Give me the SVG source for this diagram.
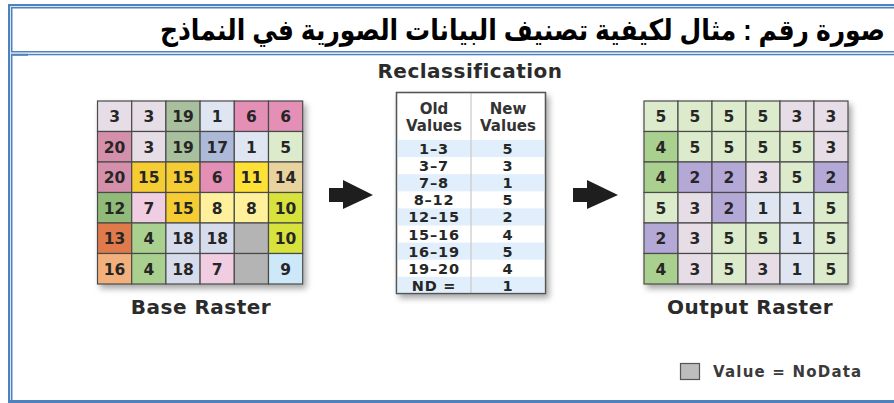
<svg xmlns="http://www.w3.org/2000/svg" width="894" height="403" viewBox="0 0 894 403">
<defs>
<style>
.b{fill:#4f81bd}
.num{font-family:"DejaVu Sans","Open Sans",sans-serif;font-weight:700;font-size:15.5px;fill:#262626;text-anchor:middle}
.cell{stroke:#4a4a4a;stroke-width:1.2}
.lbl{font-family:"DejaVu Sans","Open Sans",sans-serif;font-weight:700;font-size:20px;fill:#2b2b2b;text-anchor:middle;letter-spacing:0.5px}
.th{font-family:"DejaVu Sans","Open Sans",sans-serif;font-weight:700;font-size:15px;fill:#333;text-anchor:middle}
.td{font-family:"DejaVu Sans","Open Sans",sans-serif;font-weight:700;font-size:14.5px;fill:#262626;text-anchor:middle;letter-spacing:0.8px}
.arr{fill:#1e1e1e}
</style>
<filter id="sh" x="-10%" y="-10%" width="130%" height="130%">
<feGaussianBlur in="SourceAlpha" stdDeviation="3"/>
<feOffset dx="3" dy="4"/>
<feComponentTransfer><feFuncA type="linear" slope="0.35"/></feComponentTransfer>
<feMerge><feMergeNode/><feMergeNode in="SourceGraphic"/></feMerge>
</filter>
</defs>
<rect width="894" height="403" fill="#fff"/>
<g id="frame">
<rect class="b" x="8" y="4" width="886" height="2.2"/>
<rect class="b" x="11" y="7" width="883" height="1.5"/>
<rect class="b" x="8" y="4" width="2.2" height="399"/>
<rect class="b" x="11" y="7" width="1.5" height="45"/>
<rect class="b" x="11" y="51" width="883" height="1.5"/>
<rect class="b" x="11" y="53.8" width="883" height="1.5"/>
<rect class="b" x="11" y="53.8" width="17" height="2"/>
<rect class="b" x="11" y="54" width="1.5" height="346"/>
<rect class="b" x="8" y="400" width="886" height="3"/>
</g>
<g id="title">
<text x="160" y="34.5" transform="matrix(1 0 0 1.16 0 0)" textLength="725" lengthAdjust="spacingAndGlyphs" font-family="Liberation Sans, DejaVu Sans, sans-serif" font-weight="700" font-size="25" fill="#000">صورة رقم : مثال لكيفية تصنيف البيانات الصورية في النماذج</text>
</g>
<g id="base-raster">
<g filter="url(#sh)">
<rect x="97.5" y="101" width="205.2" height="183" fill="#fff"/>
<rect class="cell" x="97.5" y="101" width="34.2" height="30.5" fill="#e6dde6"/>
<rect class="cell" x="131.7" y="101" width="34.2" height="30.5" fill="#e6dde6"/>
<rect class="cell" x="165.9" y="101" width="34.2" height="30.5" fill="#a9c09f"/>
<rect class="cell" x="200.1" y="101" width="34.2" height="30.5" fill="#dfe6f1"/>
<rect class="cell" x="234.3" y="101" width="34.2" height="30.5" fill="#e48fb6"/>
<rect class="cell" x="268.5" y="101" width="34.2" height="30.5" fill="#e48fb6"/>
<rect class="cell" x="97.5" y="131.5" width="34.2" height="30.5" fill="#d490ab"/>
<rect class="cell" x="131.7" y="131.5" width="34.2" height="30.5" fill="#e6dde6"/>
<rect class="cell" x="165.9" y="131.5" width="34.2" height="30.5" fill="#a9c09f"/>
<rect class="cell" x="200.1" y="131.5" width="34.2" height="30.5" fill="#acb9d9"/>
<rect class="cell" x="234.3" y="131.5" width="34.2" height="30.5" fill="#dfe6f1"/>
<rect class="cell" x="268.5" y="131.5" width="34.2" height="30.5" fill="#dcebcc"/>
<rect class="cell" x="97.5" y="162" width="34.2" height="30.5" fill="#d490ab"/>
<rect class="cell" x="131.7" y="162" width="34.2" height="30.5" fill="#f5cd32"/>
<rect class="cell" x="165.9" y="162" width="34.2" height="30.5" fill="#f5cd32"/>
<rect class="cell" x="200.1" y="162" width="34.2" height="30.5" fill="#e48fb6"/>
<rect class="cell" x="234.3" y="162" width="34.2" height="30.5" fill="#ffe136"/>
<rect class="cell" x="268.5" y="162" width="34.2" height="30.5" fill="#e8d29e"/>
<rect class="cell" x="97.5" y="192.5" width="34.2" height="30.5" fill="#8fba78"/>
<rect class="cell" x="131.7" y="192.5" width="34.2" height="30.5" fill="#f1cde1"/>
<rect class="cell" x="165.9" y="192.5" width="34.2" height="30.5" fill="#f5cd32"/>
<rect class="cell" x="200.1" y="192.5" width="34.2" height="30.5" fill="#fff09c"/>
<rect class="cell" x="234.3" y="192.5" width="34.2" height="30.5" fill="#fff09c"/>
<rect class="cell" x="268.5" y="192.5" width="34.2" height="30.5" fill="#d8e23e"/>
<rect class="cell" x="97.5" y="223" width="34.2" height="30.5" fill="#e07a4b"/>
<rect class="cell" x="131.7" y="223" width="34.2" height="30.5" fill="#a9d08f"/>
<rect class="cell" x="165.9" y="223" width="34.2" height="30.5" fill="#d6dcec"/>
<rect class="cell" x="200.1" y="223" width="34.2" height="30.5" fill="#d6dcec"/>
<rect class="cell" x="234.3" y="223" width="34.2" height="30.5" fill="#b4b4b4"/>
<rect class="cell" x="268.5" y="223" width="34.2" height="30.5" fill="#d8e23e"/>
<rect class="cell" x="97.5" y="253.5" width="34.2" height="30.5" fill="#f2b17c"/>
<rect class="cell" x="131.7" y="253.5" width="34.2" height="30.5" fill="#a9d08f"/>
<rect class="cell" x="165.9" y="253.5" width="34.2" height="30.5" fill="#d6dcec"/>
<rect class="cell" x="200.1" y="253.5" width="34.2" height="30.5" fill="#f1cde1"/>
<rect class="cell" x="234.3" y="253.5" width="34.2" height="30.5" fill="#b4b4b4"/>
<rect class="cell" x="268.5" y="253.5" width="34.2" height="30.5" fill="#cde8f8"/>
</g>
<text class="num" x="114.6" y="122">3</text>
<text class="num" x="148.8" y="122">3</text>
<text class="num" x="183" y="122">19</text>
<text class="num" x="217.2" y="122">1</text>
<text class="num" x="251.4" y="122">6</text>
<text class="num" x="285.6" y="122">6</text>
<text class="num" x="114.6" y="152.5">20</text>
<text class="num" x="148.8" y="152.5">3</text>
<text class="num" x="183" y="152.5">19</text>
<text class="num" x="217.2" y="152.5">17</text>
<text class="num" x="251.4" y="152.5">1</text>
<text class="num" x="285.6" y="152.5">5</text>
<text class="num" x="114.6" y="183">20</text>
<text class="num" x="148.8" y="183">15</text>
<text class="num" x="183" y="183">15</text>
<text class="num" x="217.2" y="183">6</text>
<text class="num" x="251.4" y="183">11</text>
<text class="num" x="285.6" y="183">14</text>
<text class="num" x="114.6" y="213.5">12</text>
<text class="num" x="148.8" y="213.5">7</text>
<text class="num" x="183" y="213.5">15</text>
<text class="num" x="217.2" y="213.5">8</text>
<text class="num" x="251.4" y="213.5">8</text>
<text class="num" x="285.6" y="213.5">10</text>
<text class="num" x="114.6" y="244">13</text>
<text class="num" x="148.8" y="244">4</text>
<text class="num" x="183" y="244">18</text>
<text class="num" x="217.2" y="244">18</text>
<text class="num" x="285.6" y="244">10</text>
<text class="num" x="114.6" y="274.5">16</text>
<text class="num" x="148.8" y="274.5">4</text>
<text class="num" x="183" y="274.5">18</text>
<text class="num" x="217.2" y="274.5">7</text>
<text class="num" x="285.6" y="274.5">9</text>
<text class="lbl" x="201" y="314">Base Raster</text>
</g>
<g id="reclassification">
<text class="lbl" x="470" y="78" font-size="19" letter-spacing="1.2">Reclassification</text>
<g filter="url(#sh)">
<rect x="396.5" y="92.5" width="149" height="201" fill="#fff" stroke="#555" stroke-width="1.3"/>
</g>
<rect x="397" y="140" width="148" height="17.1" fill="#e0effb"/>
<rect x="397" y="174.2" width="148" height="17.1" fill="#e0effb"/>
<rect x="397" y="208.4" width="148" height="17.1" fill="#e0effb"/>
<rect x="397" y="242.6" width="148" height="17.1" fill="#e0effb"/>
<rect x="397" y="276.8" width="148" height="16.6" fill="#e0effb"/>
<line x1="471" y1="93" x2="471" y2="293" stroke="#c8c8c8" stroke-width="1.2"/>
<rect x="396.5" y="92.5" width="149" height="201" fill="none" stroke="#555" stroke-width="1.3"/>
<text class="th" x="434" y="114">Old</text>
<text class="th" x="434" y="131">Values</text>
<text class="th" x="508" y="114">New</text>
<text class="th" x="508" y="131">Values</text>
<text class="td" x="434" y="154">1–3</text><text class="td" x="508" y="154">5</text>
<text class="td" x="434" y="171.1">3–7</text><text class="td" x="508" y="171.1">3</text>
<text class="td" x="434" y="188.2">7–8</text><text class="td" x="508" y="188.2">1</text>
<text class="td" x="434" y="205.3">8–12</text><text class="td" x="508" y="205.3">5</text>
<text class="td" x="434" y="222.4">12–15</text><text class="td" x="508" y="222.4">2</text>
<text class="td" x="434" y="239.5">15–16</text><text class="td" x="508" y="239.5">4</text>
<text class="td" x="434" y="256.6">16–19</text><text class="td" x="508" y="256.6">5</text>
<text class="td" x="434" y="273.7">19–20</text><text class="td" x="508" y="273.7">4</text>
<text class="td" x="434" y="290.6">ND =</text><text class="td" x="508" y="290.6">1</text>
</g>
<g id="output-raster">
<g filter="url(#sh)">
<rect x="644" y="101" width="204" height="183" fill="#fff"/>
<rect class="cell" x="644" y="101" width="34" height="30.5" fill="#dcebcc"/>
<rect class="cell" x="678" y="101" width="34" height="30.5" fill="#dcebcc"/>
<rect class="cell" x="712" y="101" width="34" height="30.5" fill="#dcebcc"/>
<rect class="cell" x="746" y="101" width="34" height="30.5" fill="#dcebcc"/>
<rect class="cell" x="780" y="101" width="34" height="30.5" fill="#e6dde6"/>
<rect class="cell" x="814" y="101" width="34" height="30.5" fill="#e6dde6"/>
<rect class="cell" x="644" y="131.5" width="34" height="30.5" fill="#a9d08f"/>
<rect class="cell" x="678" y="131.5" width="34" height="30.5" fill="#dcebcc"/>
<rect class="cell" x="712" y="131.5" width="34" height="30.5" fill="#dcebcc"/>
<rect class="cell" x="746" y="131.5" width="34" height="30.5" fill="#dcebcc"/>
<rect class="cell" x="780" y="131.5" width="34" height="30.5" fill="#dcebcc"/>
<rect class="cell" x="814" y="131.5" width="34" height="30.5" fill="#e6dde6"/>
<rect class="cell" x="644" y="162" width="34" height="30.5" fill="#a9d08f"/>
<rect class="cell" x="678" y="162" width="34" height="30.5" fill="#b4a8d6"/>
<rect class="cell" x="712" y="162" width="34" height="30.5" fill="#b4a8d6"/>
<rect class="cell" x="746" y="162" width="34" height="30.5" fill="#e6dde6"/>
<rect class="cell" x="780" y="162" width="34" height="30.5" fill="#dcebcc"/>
<rect class="cell" x="814" y="162" width="34" height="30.5" fill="#b4a8d6"/>
<rect class="cell" x="644" y="192.5" width="34" height="30.5" fill="#dcebcc"/>
<rect class="cell" x="678" y="192.5" width="34" height="30.5" fill="#e6dde6"/>
<rect class="cell" x="712" y="192.5" width="34" height="30.5" fill="#b4a8d6"/>
<rect class="cell" x="746" y="192.5" width="34" height="30.5" fill="#dfe6f1"/>
<rect class="cell" x="780" y="192.5" width="34" height="30.5" fill="#dfe6f1"/>
<rect class="cell" x="814" y="192.5" width="34" height="30.5" fill="#dcebcc"/>
<rect class="cell" x="644" y="223" width="34" height="30.5" fill="#b4a8d6"/>
<rect class="cell" x="678" y="223" width="34" height="30.5" fill="#e6dde6"/>
<rect class="cell" x="712" y="223" width="34" height="30.5" fill="#dcebcc"/>
<rect class="cell" x="746" y="223" width="34" height="30.5" fill="#dcebcc"/>
<rect class="cell" x="780" y="223" width="34" height="30.5" fill="#dfe6f1"/>
<rect class="cell" x="814" y="223" width="34" height="30.5" fill="#dcebcc"/>
<rect class="cell" x="644" y="253.5" width="34" height="30.5" fill="#a9d08f"/>
<rect class="cell" x="678" y="253.5" width="34" height="30.5" fill="#e6dde6"/>
<rect class="cell" x="712" y="253.5" width="34" height="30.5" fill="#dcebcc"/>
<rect class="cell" x="746" y="253.5" width="34" height="30.5" fill="#e6dde6"/>
<rect class="cell" x="780" y="253.5" width="34" height="30.5" fill="#dfe6f1"/>
<rect class="cell" x="814" y="253.5" width="34" height="30.5" fill="#dcebcc"/>
</g>
<text class="num" x="661" y="122">5</text><text class="num" x="695" y="122">5</text><text class="num" x="729" y="122">5</text><text class="num" x="763" y="122">5</text><text class="num" x="797" y="122">3</text><text class="num" x="831" y="122">3</text>
<text class="num" x="661" y="152.5">4</text><text class="num" x="695" y="152.5">5</text><text class="num" x="729" y="152.5">5</text><text class="num" x="763" y="152.5">5</text><text class="num" x="797" y="152.5">5</text><text class="num" x="831" y="152.5">3</text>
<text class="num" x="661" y="183">4</text><text class="num" x="695" y="183">2</text><text class="num" x="729" y="183">2</text><text class="num" x="763" y="183">3</text><text class="num" x="797" y="183">5</text><text class="num" x="831" y="183">2</text>
<text class="num" x="661" y="213.5">5</text><text class="num" x="695" y="213.5">3</text><text class="num" x="729" y="213.5">2</text><text class="num" x="763" y="213.5">1</text><text class="num" x="797" y="213.5">1</text><text class="num" x="831" y="213.5">5</text>
<text class="num" x="661" y="244">2</text><text class="num" x="695" y="244">3</text><text class="num" x="729" y="244">5</text><text class="num" x="763" y="244">5</text><text class="num" x="797" y="244">1</text><text class="num" x="831" y="244">5</text>
<text class="num" x="661" y="274.5">4</text><text class="num" x="695" y="274.5">3</text><text class="num" x="729" y="274.5">5</text><text class="num" x="763" y="274.5">3</text><text class="num" x="797" y="274.5">1</text><text class="num" x="831" y="274.5">5</text>
<text class="lbl" x="750" y="314">Output Raster</text>
</g>
<g id="connectors">
<polygon class="arr" points="329,188 343,188 343,180 373,195 343,209 343,202 329,202"/>
<polygon class="arr" points="573,188 587,188 587,180 618,195 587,209 587,202 573,202"/>
</g>
<g id="legend">
<rect x="680.5" y="363.5" width="19" height="16" fill="#bdbdbd" stroke="#555" stroke-width="1.2"/>
<text x="713" y="377" font-family="DejaVu Sans, Open Sans, sans-serif" font-weight="700" font-size="15" letter-spacing="1.2" fill="#3a3a3a">Value = NoData</text>
</g>
</svg>
